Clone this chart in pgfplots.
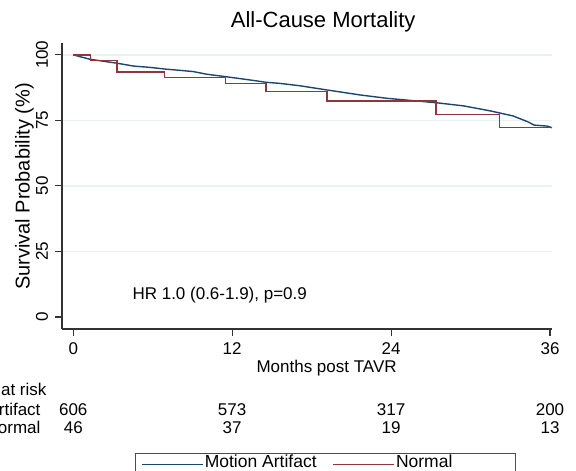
\documentclass[border=0pt]{standalone}
\usepackage{fontspec}
\setmainfont{Liberation Sans}
\usepackage{pgfplots}
\pgfplotsset{compat=1.18}
\definecolor{stnavy}{RGB}{26,71,111}
\definecolor{stmaroon}{RGB}{144,53,59}
\definecolor{gridc}{RGB}{232,241,243}
\begin{document}
\begin{tikzpicture}[x=1pt,y=1pt]
\begin{axis}[
  at={(62pt,-329pt)}, anchor=south west,
  scale only axis, width=490pt, height=286pt,
  xmin=-0.85, xmax=36.15, ymin=-4.57, ymax=104.5,
  axis x line*=bottom, axis y line*=left,
  axis line style={-, draw=black!80, line width=1.1pt},
  tick style={black!80, line width=1.1pt},
  major tick length=7pt, tick align=outside,
  xtick={0,12,24,36}, ytick={25,50,75,100},
  extra y ticks={0}, extra y tick style={grid=none},
  ymajorgrids, grid style={gridc, line width=1.4pt},
  /pgf/number format/assume math mode=true,
  tick label style={font=\fontsize{17}{20}\selectfont},
  xticklabel style={anchor=base}, xticklabel shift=18pt,
  yticklabel style={rotate=90, anchor=base}, yticklabel shift=7pt,
  title={All-Cause Mortality},
  every axis title/.style={at={(axis description cs:0.533,1.0535)}, anchor=base, font=\fontsize{22}{26}\selectfont},
  xlabel={Months post TAVR},
  every axis x label/.style={at={(axis description cs:0.540,-0.1528)}, anchor=base, font=\fontsize{17}{20}\selectfont},
  ylabel={Survival Probability (\%)},
  every axis y label/.style={at={(axis description cs:-0.0659,0.498)}, rotate=90, anchor=base, font=\fontsize{20}{24}\selectfont},
  legend style={at={(axis description cs:0.149,-0.4336)}, anchor=north west, draw=black!70, line width=0.9pt,
    inner xsep=6pt, inner ysep=0.5pt, font=\fontsize{17.5}{20}\selectfont,
    /tikz/every even column/.append style={column sep=15pt}, nodes={inner sep=1pt, text depth=6pt}},
  legend columns=2, legend cell align=left,
  legend image code/.code={\draw[#1,line width=1.3pt] (0pt,0pt) -- (61pt,0pt); \path (0pt,-6pt);},
  clip=false,
]
\addplot[stnavy, line width=1.4pt] coordinates {
 (0,100) (0.5,99.3) (1.26,98.3) (2.2,97.6) (3.3,96.8) (4.55,95.7) (5.8,95.2)
 (7.05,94.5) (8.0,94.1) (9.06,93.6) (10.07,92.6) (11.6,91.6) (13.35,90.4)
 (14.6,89.5) (15.6,89.1) (17.1,88.2) (19.15,86.6) (21.65,84.7) (23.7,83.4)
 (25.7,82.5) (27.45,81.7) (29.5,80.5) (31.5,78.6) (33.2,76.7) (34.3,74.5)
 (34.8,73.2) (35.8,72.8) (36.15,72.2)
};
\addlegendentry{Motion Artifact}
\addplot[stmaroon, line width=1.4pt, const plot] coordinates {
 (0,100) (1.3,97.8) (3.3,93.5) (6.9,91.3) (11.5,89.1) (14.55,86.0)
 (19.15,82.4) (27.4,77.3) (32.2,72.2) (36.15,72.2)
};
\addlegendentry[text width=112pt]{Normal}
\node[anchor=base west, font=\fontsize{17}{20}\selectfont] at (axis cs:4.21,6.86) {HR 1.0 (0.6-1.9), p=0.9};
\node[anchor=base east, font=\fontsize{17}{20}\selectfont] at (axis cs:-1.76,-29.75) {Number at risk};
\node[anchor=base east, font=\fontsize{17}{20}\selectfont] at (axis cs:-2.21,-37.38) {Artifact};
\node[anchor=base east, font=\fontsize{17}{20}\selectfont] at (axis cs:-2.21,-44.24) {Normal};
\node[anchor=base, font=\fontsize{17}{20}\selectfont] at (axis cs:0,-37.38) {606};
\node[anchor=base, font=\fontsize{17}{20}\selectfont] at (axis cs:12,-37.38) {573};
\node[anchor=base, font=\fontsize{17}{20}\selectfont] at (axis cs:24,-37.38) {317};
\node[anchor=base, font=\fontsize{17}{20}\selectfont] at (axis cs:36,-37.38) {200};
\node[anchor=base, font=\fontsize{17}{20}\selectfont] at (axis cs:0,-44.24) {46};
\node[anchor=base, font=\fontsize{17}{20}\selectfont] at (axis cs:12,-44.24) {37};
\node[anchor=base, font=\fontsize{17}{20}\selectfont] at (axis cs:24,-44.24) {19};
\node[anchor=base, font=\fontsize{17}{20}\selectfont] at (axis cs:36,-44.24) {13};
\end{axis}
\pgfresetboundingbox
\useasboundingbox (0,0) rectangle (576,-471);
\end{tikzpicture}
\end{document}
